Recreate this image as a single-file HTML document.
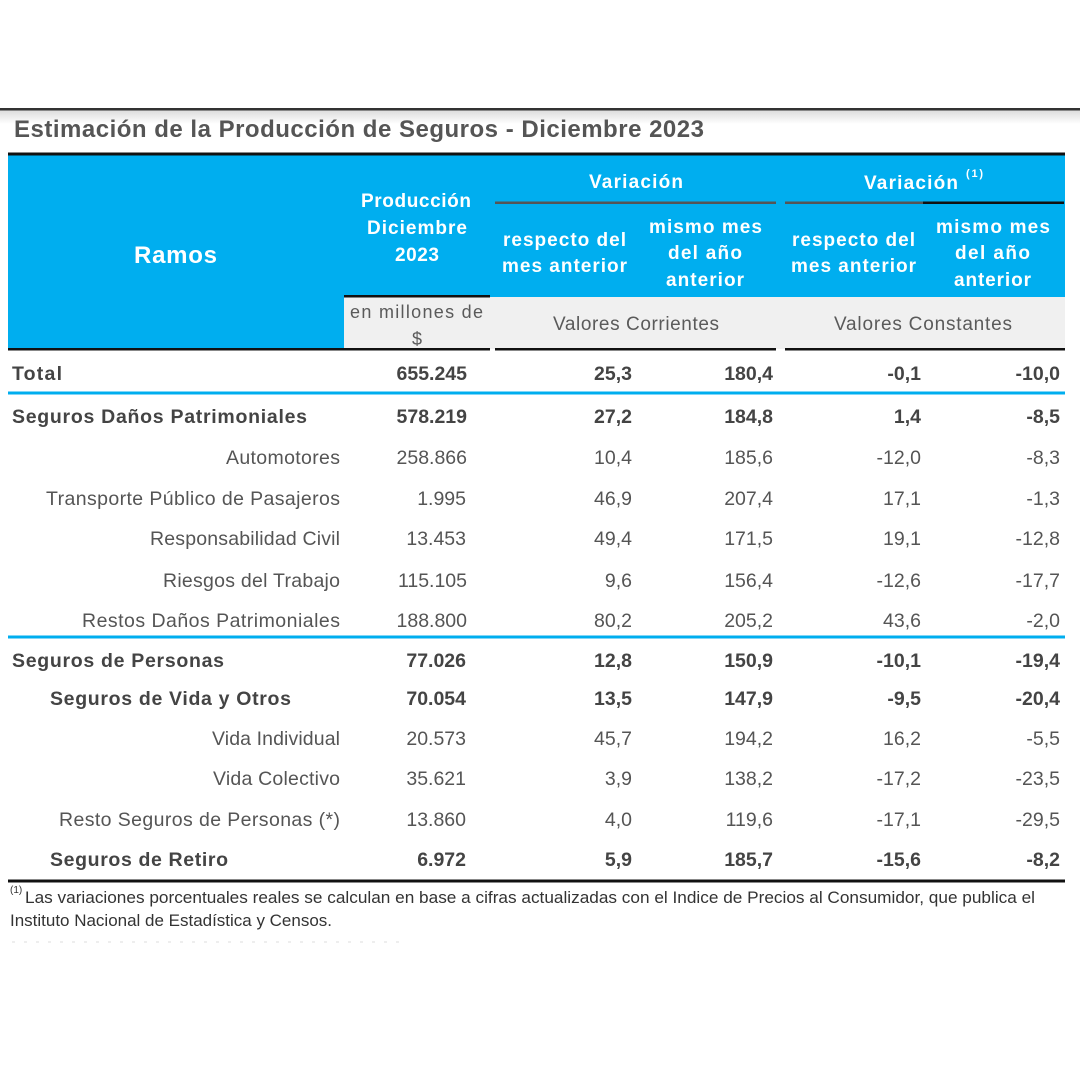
<!DOCTYPE html>
<html>
<head>
<meta charset="utf-8">
<style>
  html,body{margin:0;padding:0;background:#fff;}
  svg{display:block;}
  text{font-family:"Liberation Sans",Arial,sans-serif;}
  .t{fill:#555;font-weight:bold;font-size:24px;}
  .h{fill:#fff;font-weight:bold;font-size:19px;}
  .g{fill:#5a5a5a;font-size:18px;}
  .r{fill:#555;font-size:19.5px;}
  .b{fill:#444;font-size:19.5px;font-weight:bold;}
  .n{fill:#555;font-size:19.5px;text-anchor:end;}
  .nb{fill:#444;font-size:19.5px;font-weight:bold;text-anchor:end;}
  .f{fill:#333;font-size:17px;}
</style>
</head>
<body>
<svg width="1080" height="1080" viewBox="0 0 1080 1080" xmlns="http://www.w3.org/2000/svg">
  <defs>
    <linearGradient id="sh" x1="0" y1="0" x2="0" y2="1">
      <stop offset="0" stop-color="#dcdcdc"/>
      <stop offset="1" stop-color="#ffffff"/>
    </linearGradient>
  </defs>
  <rect x="0" y="0" width="1080" height="1080" fill="#fff"/>
  <!-- top rule with shadow -->
  <rect x="0" y="110" width="1080" height="14" fill="url(#sh)"/>
  <rect x="0" y="108" width="1080" height="2.5" fill="#333"/>

  <!-- title -->
  <text class="t" x="14" y="137" textLength="690">Estimación de la Producción de Seguros - Diciembre 2023</text>

  <!-- header blue -->
  <rect x="8" y="155" width="1057" height="194" fill="#00AEEF"/>
  <rect x="8" y="152.5" width="1057" height="3" fill="#111"/>
  <!-- gray sub-row -->
  <rect x="344" y="297" width="721" height="52" fill="#F0F0F0"/>
  <rect x="344" y="295" width="146" height="2.5" fill="#111"/>
  <!-- variación lines -->
  <rect x="495" y="201.5" width="281" height="2.5" fill="#555"/>
  <rect x="785" y="201.5" width="138" height="2.5" fill="#555"/>
  <rect x="923" y="201.5" width="141" height="2.5" fill="#111"/>
  <!-- header bottom lines -->
  <rect x="8" y="348" width="482" height="2.5" fill="#111"/>
  <rect x="495" y="348" width="281" height="2.5" fill="#111"/>
  <rect x="785" y="348" width="280" height="2.5" fill="#111"/>

  <!-- header texts -->
  <text class="h" x="134" y="263" textLength="83" style="font-size:24px">Ramos</text>
  <text class="h" x="361" y="207" textLength="110">Producción</text>
  <text class="h" x="367" y="234" textLength="100">Diciembre</text>
  <text class="h" x="395" y="261" textLength="44">2023</text>

  <text class="h" x="589" y="188" textLength="94">Variación</text>
  <text class="h" x="864" y="189" textLength="94">Variación</text>
  <text class="h" x="966" y="177" style="font-size:11px" textLength="17">(1)</text>

  <text class="h" x="503" y="246" textLength="123">respecto del</text>
  <text class="h" x="502" y="272" textLength="125">mes anterior</text>
  <text class="h" x="649" y="233" textLength="113">mismo mes</text>
  <text class="h" x="668" y="259" textLength="74">del año</text>
  <text class="h" x="666" y="286" textLength="78">anterior</text>

  <text class="h" x="792" y="246" textLength="123">respecto del</text>
  <text class="h" x="791" y="272" textLength="125">mes anterior</text>
  <text class="h" x="936" y="233" textLength="114">mismo mes</text>
  <text class="h" x="955" y="259" textLength="75">del año</text>
  <text class="h" x="954" y="286" textLength="77">anterior</text>

  <text class="g" x="350" y="318" textLength="133">en millones de</text>
  <text class="g" x="417" y="345" text-anchor="middle">$</text>
  <text class="g" x="553" y="330" textLength="166" style="font-size:19px">Valores Corrientes</text>
  <text class="g" x="834" y="330" textLength="178" style="font-size:19px">Valores Constantes</text>

  <!-- separators -->
  <rect x="8" y="391.5" width="1057" height="3" fill="#00AEEF"/>
  <rect x="8" y="635.5" width="1057" height="3" fill="#00AEEF"/>
  <rect x="8" y="879.5" width="1057" height="3" fill="#111"/>

  <!-- Total -->
  <text class="b" x="12" y="380" textLength="50">Total</text>
  <text class="nb" x="467" y="380">655.245</text>
  <text class="nb" x="632" y="380">25,3</text>
  <text class="nb" x="773" y="380">180,4</text>
  <text class="nb" x="921" y="380">-0,1</text>
  <text class="nb" x="1060" y="380">-10,0</text>

  <!-- Seguros Daños Patrimoniales -->
  <text class="b" x="12" y="423" textLength="295">Seguros Daños Patrimoniales</text>
  <text class="nb" x="467" y="423">578.219</text>
  <text class="nb" x="632" y="423">27,2</text>
  <text class="nb" x="773" y="423">184,8</text>
  <text class="nb" x="921" y="423">1,4</text>
  <text class="nb" x="1060" y="423">-8,5</text>

  <text class="r" x="226" y="464" textLength="114">Automotores</text>
  <text class="n" x="467" y="464">258.866</text>
  <text class="n" x="632" y="464">10,4</text>
  <text class="n" x="773" y="464">185,6</text>
  <text class="n" x="921" y="464">-12,0</text>
  <text class="n" x="1060" y="464">-8,3</text>

  <text class="r" x="46" y="505" textLength="294">Transporte Público de Pasajeros</text>
  <text class="n" x="466" y="505">1.995</text>
  <text class="n" x="632" y="505">46,9</text>
  <text class="n" x="773" y="505">207,4</text>
  <text class="n" x="921" y="505">17,1</text>
  <text class="n" x="1060" y="505">-1,3</text>

  <text class="r" x="150" y="545" textLength="190">Responsabilidad Civil</text>
  <text class="n" x="466" y="545">13.453</text>
  <text class="n" x="632" y="545">49,4</text>
  <text class="n" x="773" y="545">171,5</text>
  <text class="n" x="921" y="545">19,1</text>
  <text class="n" x="1060" y="545">-12,8</text>

  <text class="r" x="163" y="587" textLength="177">Riesgos del Trabajo</text>
  <text class="n" x="467" y="587">115.105</text>
  <text class="n" x="632" y="587">9,6</text>
  <text class="n" x="773" y="587">156,4</text>
  <text class="n" x="921" y="587">-12,6</text>
  <text class="n" x="1060" y="587">-17,7</text>

  <text class="r" x="82" y="627" textLength="258">Restos Daños Patrimoniales</text>
  <text class="n" x="467" y="627">188.800</text>
  <text class="n" x="632" y="627">80,2</text>
  <text class="n" x="773" y="627">205,2</text>
  <text class="n" x="921" y="627">43,6</text>
  <text class="n" x="1060" y="627">-2,0</text>

  <!-- Seguros de Personas -->
  <text class="b" x="12" y="667" textLength="212">Seguros de Personas</text>
  <text class="nb" x="466" y="667">77.026</text>
  <text class="nb" x="632" y="667">12,8</text>
  <text class="nb" x="773" y="667">150,9</text>
  <text class="nb" x="921" y="667">-10,1</text>
  <text class="nb" x="1060" y="667">-19,4</text>

  <text class="b" x="50" y="705" textLength="241">Seguros de Vida y Otros</text>
  <text class="nb" x="466" y="705">70.054</text>
  <text class="nb" x="632" y="705">13,5</text>
  <text class="nb" x="773" y="705">147,9</text>
  <text class="nb" x="921" y="705">-9,5</text>
  <text class="nb" x="1060" y="705">-20,4</text>

  <text class="r" x="212" y="745" textLength="128">Vida Individual</text>
  <text class="n" x="466" y="745">20.573</text>
  <text class="n" x="632" y="745">45,7</text>
  <text class="n" x="773" y="745">194,2</text>
  <text class="n" x="921" y="745">16,2</text>
  <text class="n" x="1060" y="745">-5,5</text>

  <text class="r" x="213" y="785" textLength="127">Vida Colectivo</text>
  <text class="n" x="466" y="785">35.621</text>
  <text class="n" x="632" y="785">3,9</text>
  <text class="n" x="773" y="785">138,2</text>
  <text class="n" x="921" y="785">-17,2</text>
  <text class="n" x="1060" y="785">-23,5</text>

  <text class="r" x="59" y="826" textLength="281">Resto Seguros de Personas (*)</text>
  <text class="n" x="466" y="826">13.860</text>
  <text class="n" x="632" y="826">4,0</text>
  <text class="n" x="773" y="826">119,6</text>
  <text class="n" x="921" y="826">-17,1</text>
  <text class="n" x="1060" y="826">-29,5</text>

  <text class="b" x="50" y="866" textLength="178">Seguros de Retiro</text>
  <text class="nb" x="466" y="866">6.972</text>
  <text class="nb" x="632" y="866">5,9</text>
  <text class="nb" x="773" y="866">185,7</text>
  <text class="nb" x="921" y="866">-15,6</text>
  <text class="nb" x="1060" y="866">-8,2</text>

  <!-- footnote -->
  <text class="f" x="10" y="893" style="font-size:10px">(1)</text>
  <text class="f" x="25" y="903" textLength="1010" lengthAdjust="spacingAndGlyphs">Las variaciones porcentuales reales se calculan en base a cifras actualizadas con  el Indice de Precios al Consumidor, que publica el</text>
  <text class="f" x="10" y="926" textLength="322" lengthAdjust="spacingAndGlyphs">Instituto Nacional de Estadística y  Censos.</text>
  <line x1="12" y1="942" x2="400" y2="942" stroke="#eeeeee" stroke-width="2" stroke-dasharray="3 9"/>
</svg>
</body>
</html>
